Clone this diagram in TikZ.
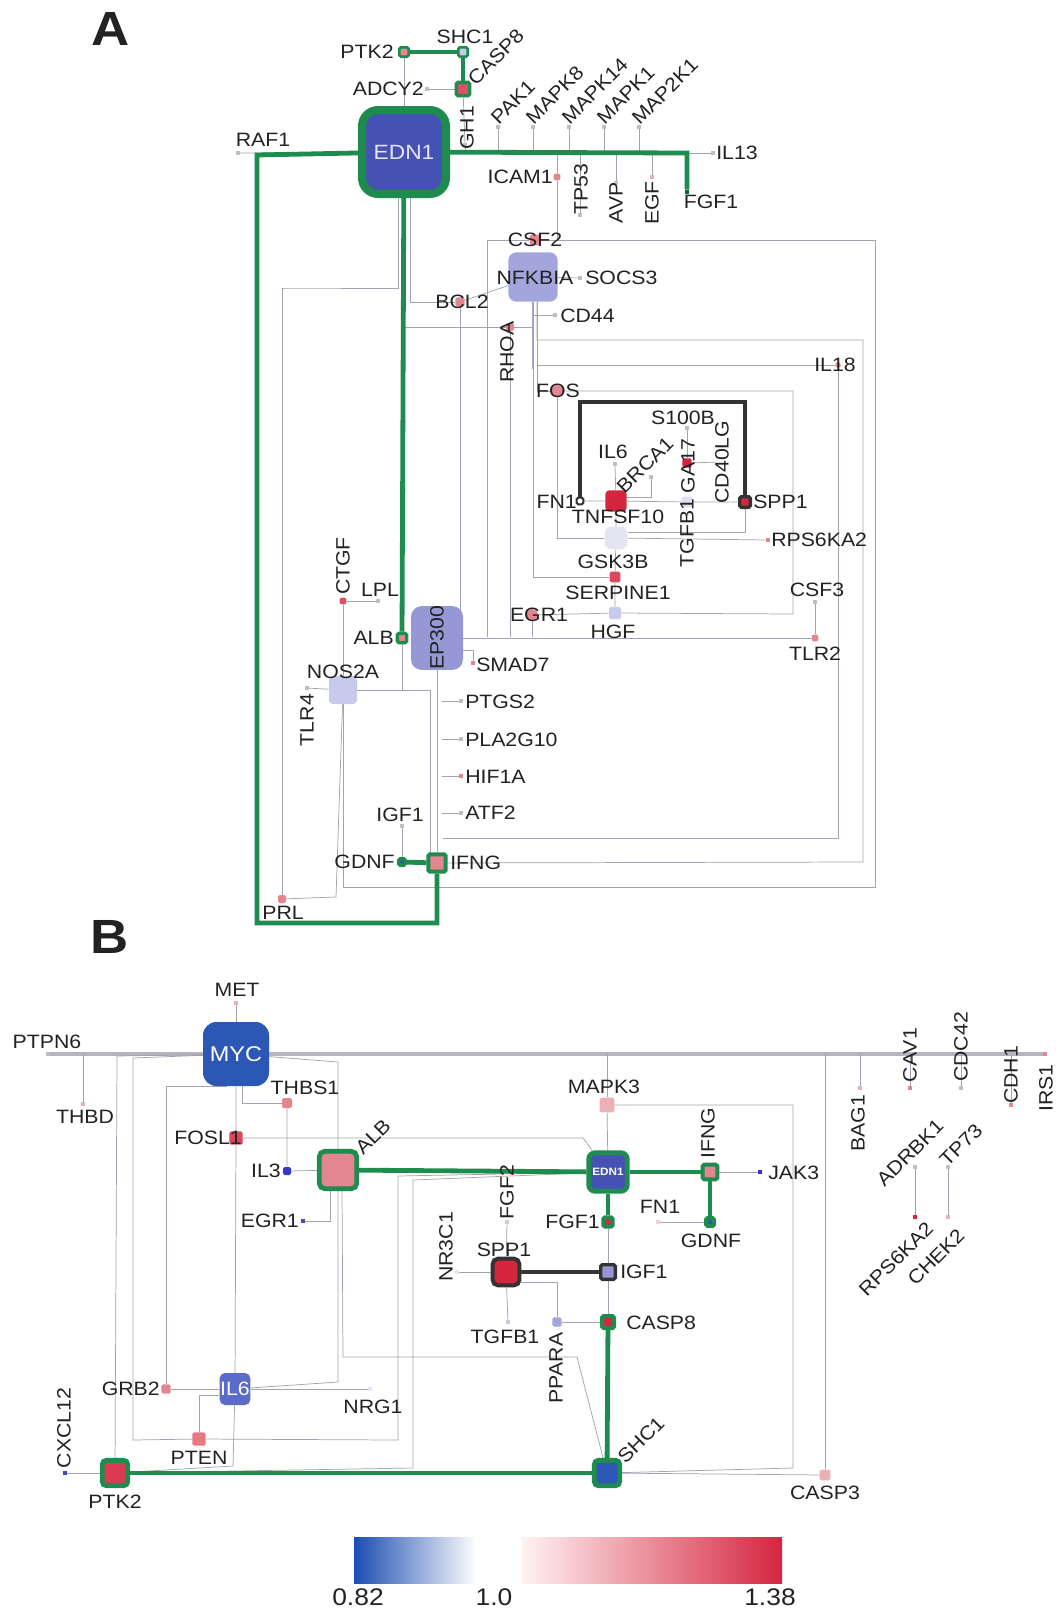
\documentclass[tikz,border=0pt]{standalone}
\usepackage{fontspec}
\setmainfont{Liberation Sans}[FakeStretch=1.1]
\usetikzlibrary{calc}
\definecolor{grn}{HTML}{1E8C4E}
\definecolor{bluedk}{HTML}{2C57B5}
\definecolor{edn}{HTML}{4652B3}
\definecolor{lav}{HTML}{A3A6DC}
\definecolor{lavd}{HTML}{9598D4}
\definecolor{lavl}{HTML}{C8CAEC}
\definecolor{lavxl}{HTML}{E4E4F2}
\definecolor{pnk}{HTML}{E3868F}
\definecolor{pnkl}{HTML}{EEB0B7}
\definecolor{redd}{HTML}{D5263F}
\definecolor{edgec}{HTML}{A2A2B0}
\definecolor{txt}{HTML}{222222}
\definecolor{cbb}{HTML}{1C4DB0}
\definecolor{ilsix}{HTML}{5A6BC9}
\pgfdeclarelayer{edges}
\pgfsetlayers{edges,main}
\newcommand\mylbl{\fontsize{14.5}{15}\selectfont}
\begin{document}
\begin{tikzpicture}[x=0.75pt,y=-0.75pt,
 glab/.style={inner sep=0pt, font=\mylbl, text=txt},
 gdot/.style={rectangle, inner sep=0pt, minimum size=3pt, fill=#1},
 gdot/.default={gray!50},
 nd/.style={rectangle, rounded corners=1.2pt, inner sep=0pt, minimum size=#1},
 gb/.style={draw=grn, line width=#1},
 kb/.style={draw=black!80, line width=#1},
 gedge/.style={draw=edgec, line width=0.55pt},
 gthick/.style={draw=grn, line width=3.6pt},
 kthick/.style={draw=black!80, line width=3.6pt},
 mainline/.style={draw=edgec!80, line width=2.8pt},
]
\begin{pgfonlayer}{edges}
\fill[white] (0,0) rectangle (1056,1614);
\end{pgfonlayer}
\useasboundingbox (0,0) rectangle (1056,1614);

% ================= PANEL A nodes =================
\node[glab, font=\bfseries\fontsize{36}{36}\selectfont] (labA) at (111,29) {A};
\node[nd=63pt, rounded corners=12pt, fill=edn, gb=6pt, font=\fontsize{15.5}{16}\selectfont, text=lavxl] (aEDN1) at (404,152) {EDN1};
\node[nd=7pt, fill=pnk, gb=2pt] (aPTK2) at (404,52) {};
\node[nd=7pt, fill=lavl, gb=2pt] (aSHC1) at (463,52) {};
\node[nd=10pt, fill=redd!80, gb=2.5pt] (aCASP8) at (463,89) {};
\node[gdot] (aADCY2) at (427,89) {};
\node[gdot] (aGH1) at (465,145) {};
\node[gdot] (aPAK1) at (498,127) {};
\node[gdot] (aMAPK8) at (533,127) {};
\node[gdot] (aMAPK14) at (569,127) {};
\node[gdot] (aMAPK1) at (604,127) {};
\node[gdot] (aMAP2K1) at (639,127) {};
\node[gdot] (aRAF1) at (238,153) {};
\node[gdot] (aIL13) at (713,153) {};
\node[gdot=grn!70!black] (aFGF1) at (687,192) {};
\node[nd=5pt, fill=pnk] (aICAM1) at (557,177) {};
\node[gdot] (aTP53) at (580,215) {};
\node[gdot=pnkl] (aAVP) at (616,183) {};
\node[gdot=pnkl] (aEGF) at (652,177) {};
\node[nd=8pt, fill=pnk] (aCSF2) at (535,240) {};
\node[nd=37pt, rounded corners=6pt, fill=lav] (aNFKBIA) at (533,277) {};
\node[gdot] (aSOCS3) at (580,278) {};
\node[nd=7pt, fill=pnk] (aBCL2) at (460,302) {};
\node[gdot] (aCD44) at (555,315) {};
\node[nd=6pt, fill=pnk] (aRHOA) at (510,327) {};
\node[nd=4pt, fill=pnk] (aIL18) at (838,365) {};
\node[circle, inner sep=0, minimum size=9pt, fill=pnk] (aFOS) at (557,391) {};
\node[nd=5pt, fill=white, kb=1.6pt] (aFN1) at (580,501) {};
\node[nd=16pt, rounded corners=3pt, fill=redd] (aTNFSF10) at (616,501) {};
\node[gdot] (aIL6) at (615,464) {};
\node[gdot] (aBRCA1) at (651,477) {};
\node[gdot] (aS100B) at (687,428) {};
\node[nd=7pt, fill=redd] (aGA17) at (687,463) {};
\node[nd=8pt, fill=lavxl!80!lavl] (aTGFB1) at (687,502) {};
\node[nd=8pt, fill=redd, kb=2.5pt] (aSPP1) at (745,502) {};
\node[gdot=pnk] (aRPS6KA2) at (768,540) {};
\node[nd=17pt, rounded corners=5pt, fill=lavxl] (aGSK3B) at (616,538) {};
\node[nd=8pt, fill=redd!85] (aSERPINE1) at (615,577) {};
\node[nd=9pt, fill=lavl] (aHGF) at (615,613) {};
\node[circle, inner sep=0, minimum size=9pt, fill=pnk] (aEGR1) at (532,615) {};
\node[gdot] (aCSF3) at (815,602) {};
\node[nd=5pt, fill=pnk] (aTLR2) at (815,638) {};
\node[nd=5pt, fill=redd!80] (aCTGF) at (343,601) {};
\node[gdot] (aLPL) at (378,601) {};
\node[nd=7pt, fill=pnk, gb=2.5pt] (aALB) at (402,638) {};
\node[rectangle, rounded corners=8pt, inner sep=0, minimum width=43pt, minimum height=39pt, fill=lavd, rotate=90, font=\mylbl, text=txt] (aEP300) at (437,638) {EP300};
\node[gdot=pnk] (aSMAD7) at (473,663) {};
\node[nd=21pt, rounded corners=3pt, fill=lavl] (aNOS2A) at (343,690) {};
\node[gdot] (aTLR4) at (307,688) {};
\node[gdot] (aPTGS2) at (461,701) {};
\node[gdot] (aPLA2G10) at (461,739) {};
\node[gdot=pnk] (aHIF1A) at (461,776) {};
\node[gdot] (aATF2) at (461,813) {};
\node[gdot] (aIGF1) at (402,826) {};
\node[nd=5pt, fill=bluedk, gb=2.5pt] (aGDNF) at (402,862) {};
\node[nd=13pt, fill=pnk, gb=3pt] (aIFNG) at (437,863) {};
\node[nd=6pt, fill=pnk] (aPRL) at (282,899) {};

% ---- panel A labels
\node[glab] (laPTK2) at (367,52) {PTK2};
\node[glab] (laSHC1) at (465,37) {SHC1};
\node[glab, rotate=45, anchor=west] (laCASP8) at (471,82) {CASP8};
\node[glab, anchor=east] (laADCY2) at (424,89) {ADCY2};
\node[glab, rotate=90] (laGH1) at (467,128) {GH1};
\node[glab, rotate=45, anchor=west] (laPAK1) at (494,121) {PAK1};
\node[glab, rotate=45, anchor=west] (laMAPK8) at (529,121) {MAPK8};
\node[glab, rotate=45, anchor=west] (laMAPK14) at (565,121) {MAPK14};
\node[glab, rotate=45, anchor=west] (laMAPK1) at (600,121) {MAPK1};
\node[glab, rotate=45, anchor=west] (laMAP2K1) at (635,121) {MAP2K1};
\node[glab] (laRAF1) at (263,140) {RAF1};
\node[glab, anchor=west] (laIL13) at (716,153) {IL13};
\node[glab, anchor=east] (laICAM1) at (553,177) {ICAM1};
\node[glab, rotate=90] (laTP53) at (581,189) {TP53};
\node[glab, rotate=90] (laAVP) at (616,203) {AVP};
\node[glab, rotate=90] (laEGF) at (652,203) {EGF};
\node[glab] (laFGF1) at (711,202) {FGF1};
\node[glab] (laCSF2) at (535,240) {CSF2};
\node[glab] (laNFKBIA) at (535,278) {NFKBIA};
\node[glab, anchor=west] (laSOCS3) at (585,278) {SOCS3};
\node[glab] (laBCL2) at (462,302) {BCL2};
\node[glab, anchor=west] (laCD44) at (560,316) {CD44};
\node[glab, rotate=90] (laRHOA) at (507,352) {RHOA};
\node[glab] (laIL18) at (835,365) {IL18};
\node[glab] (laFOS) at (558,391) {FOS};
\node[glab] (laS100B) at (683,418) {S100B};
\node[glab] (laIL6) at (613,452) {IL6};
\node[glab, rotate=45] (laBRCA1) at (645,465) {BRCA1};
\node[glab, rotate=90] (laGA17) at (688,466) {GA17};
\node[glab, rotate=90] (laCD40LG) at (722,462) {CD40LG};
\node[glab, anchor=east] (laFN1) at (577,502) {FN1};
\node[glab, anchor=west] (laSPP1) at (753,502) {SPP1};
\node[glab] (laTNFSF10) at (618,517) {TNFSF10};
\node[glab, rotate=90] (laTGFB1) at (687,533) {TGFB1};
\node[glab, anchor=west] (laRPS6KA2) at (771,540) {RPS6KA2};
\node[glab] (laGSK3B) at (613,562) {GSK3B};
\node[glab] (laSERPINE1) at (618,593) {SERPINE1};
\node[glab] (laCSF3) at (817,590) {CSF3};
\node[glab] (laEGR1) at (539,615) {EGR1};
\node[glab] (laHGF) at (613,632) {HGF};
\node[glab] (laTLR2) at (815,654) {TLR2};
\node[glab, rotate=90] (laCTGF) at (343,566) {CTGF};
\node[glab] (laLPL) at (380,590) {LPL};
\node[glab, anchor=east] (laALB) at (394,638) {ALB};
\node[glab, anchor=west] (laSMAD7) at (476,665) {SMAD7};
\node[glab] (laNOS2A) at (343,672) {NOS2A};
\node[glab, rotate=90] (laTLR4) at (307,720) {TLR4};
\node[glab, anchor=west] (laPTGS2) at (465,702) {PTGS2};
\node[glab, anchor=west] (laPLA2G10) at (465,740) {PLA2G10};
\node[glab, anchor=west] (laHIF1A) at (465,777) {HIF1A};
\node[glab, anchor=west] (laATF2) at (465,813) {ATF2};
\node[glab] (laIGF1) at (400,815) {IGF1};
\node[glab, anchor=east] (laGDNF) at (395,862) {GDNF};
\node[glab, anchor=west] (laIFNG) at (450,863) {IFNG};
\node[glab] (laPRL) at (283,913) {PRL};

% ================= PANEL B nodes =================
\node[glab, font=\bfseries\fontsize{36}{36}\selectfont] (labB) at (110,937) {B};
\node[rectangle, rounded corners=10pt, inner sep=0, minimum width=49.5pt, minimum height=48pt, fill=bluedk, text=white, font=\fontsize{16}{16}\selectfont] (bMYC) at (236,1054) {MYC};
\node[gdot=pnkl] (bMET) at (236,1003) {};
\node[gdot] (bPTPN6) at (48,1054) {};
\node[gdot=pnkl] (bTHBD) at (83,1104) {};
\node[nd=7.5pt, fill=pnk] (bTHBS1) at (287,1103) {};
\node[nd=10pt, fill=redd!85] (bFOSL1) at (236,1138) {};
\node[nd=6pt, fill=blue!55!gray] (bIL3) at (287,1171) {};
\node[nd=28pt, rounded corners=4pt, fill=pnk, gb=3.6pt] (bALB) at (338,1170) {};
\node[gdot=blue!40!gray] (bEGR1) at (303,1221) {};
\node[nd=11pt, fill=pnkl] (bMAPK3) at (607,1105) {};
\node[nd=29pt, rounded corners=5pt, fill=edn, gb=3.6pt, text=white, font=\bfseries\fontsize{8}{8}\selectfont] (bEDN1) at (608,1172) {EDN1};
\node[nd=11pt, fill=pnk, gb=3pt] (bIFNG) at (710,1172) {};
\node[gdot=blue!60!gray] (bJAK3) at (760,1172) {};
\node[nd=7pt, fill=redd, gb=3pt] (bFGF1) at (608,1222) {};
\node[gdot=pnkl!60] (bFN1) at (658,1222) {};
\node[nd=6pt, fill=bluedk, gb=3pt] (bGDNF) at (710,1222) {};
\node[gdot=lavl] (bFGF2) at (507,1222) {};
\node[nd=20pt, rounded corners=4pt, fill=redd, kb=3pt] (bSPP1) at (506,1272) {};
\node[gdot=lavxl] (bNR3C1) at (457,1272) {};
\node[nd=11pt, fill=lavd, kb=2.5pt] (bIGF1) at (608,1272) {};
\node[gdot=lavl] (bTGFB1) at (508,1322) {};
\node[nd=7pt, fill=lav] (bPPARA) at (557,1322) {};
\node[nd=9pt, fill=redd, gb=3pt] (bCASP8) at (608,1322) {};
\node[nd=19pt, rounded corners=3pt, fill=bluedk, gb=3.6pt] (bSHC1) at (607,1473) {};
\node[nd=19pt, rounded corners=3pt, fill=redd!90, gb=3.6pt] (bPTK2) at (115,1473) {};
\node[gdot=blue!45!gray] (bCXCL12) at (65,1473) {};
\node[nd=7pt, fill=pnk] (bGRB2) at (166,1389) {};
\node[rectangle, rounded corners=4pt, inner sep=0, minimum width=23pt, minimum height=24pt, fill=ilsix, text=white, font=\mylbl] (bIL6) at (235,1389) {IL6};
\node[gdot=lavxl] (bNRG1) at (370,1389) {};
\node[nd=10pt, fill=pnk!90!red] (bPTEN) at (199,1439) {};
\node[nd=8pt, fill=pnkl] (bCASP3) at (825,1475) {};
\node[gdot=pnkl] (bBAG1) at (860,1088) {};
\node[gdot=pnk] (bCAV1) at (910,1088) {};
\node[gdot] (bCDC42) at (961,1088) {};
\node[gdot=pnk] (bCDH1) at (1011,1105) {};
\node[gdot=pnk] (bIRS1) at (1045,1054) {};
\node[gdot] (bADRBK1) at (915,1167) {};
\node[gdot=redd] (bRPS6KA2) at (915,1217) {};
\node[gdot] (bTP73) at (948,1167) {};
\node[gdot=pnkl] (bCHEK2) at (948,1217) {};

% ---- panel B labels
\node[glab] (lbMET) at (237,990) {MET};
\node[glab] (lbPTPN6) at (47,1042) {PTPN6};
\node[glab] (lbTHBD) at (85,1117) {THBD};
\node[glab] (lbTHBS1) at (305,1088) {THBS1};
\node[glab] (lbFOSL1) at (208,1138) {FOSL1};
\node[glab, anchor=east] (lbIL3) at (281,1171) {IL3};
\node[glab, rotate=45] (lbALB) at (373,1137) {ALB};
\node[glab, anchor=east] (lbEGR1) at (299,1221) {EGR1};
\node[glab] (lbMAPK3) at (604,1087) {MAPK3};
\node[glab, rotate=90] (lbIFNG) at (708,1133) {IFNG};
\node[glab, anchor=west] (lbJAK3) at (768,1173) {JAK3};
\node[glab, anchor=east] (lbFGF1) at (600,1222) {FGF1};
\node[glab] (lbFN1) at (660,1207) {FN1};
\node[glab] (lbGDNF) at (711,1241) {GDNF};
\node[glab, rotate=90] (lbFGF2) at (507,1192) {FGF2};
\node[glab] (lbSPP1) at (504,1250) {SPP1};
\node[glab, rotate=90] (lbNR3C1) at (446,1247) {NR3C1};
\node[glab, anchor=west] (lbIGF1) at (620,1272) {IGF1};
\node[glab] (lbTGFB1) at (505,1337) {TGFB1};
\node[glab, rotate=90] (lbPPARA) at (556,1368) {PPARA};
\node[glab, anchor=west] (lbCASP8) at (626,1323) {CASP8};
\node[glab, rotate=45] (lbSHC1) at (641,1440) {SHC1};
\node[glab] (lbPTK2) at (115,1502) {PTK2};
\node[glab, rotate=90] (lbCXCL12) at (64,1428) {CXCL12};
\node[glab, anchor=east] (lbGRB2) at (160,1389) {GRB2};
\node[glab] (lbNRG1) at (373,1407) {NRG1};
\node[glab] (lbPTEN) at (199,1458) {PTEN};
\node[glab] (lbCASP3) at (825,1493) {CASP3};
\node[glab, rotate=90] (lbBAG1) at (858,1123) {BAG1};
\node[glab, rotate=90] (lbCAV1) at (910,1055) {CAV1};
\node[glab, rotate=90] (lbCDC42) at (961,1047) {CDC42};
\node[glab, rotate=90] (lbCDH1) at (1011,1075) {CDH1};
\node[glab, rotate=90] (lbIRS1) at (1046,1088) {IRS1};
\node[glab, rotate=45] (lbADRBK1) at (910,1153) {ADRBK1};
\node[glab, rotate=45] (lbTP73) at (961,1145) {TP73};
\node[glab, rotate=45] (lbRPS6KA2) at (896,1259) {RPS6KA2};
\node[glab, rotate=45] (lbCHEK2) at (936,1257) {CHEK2};

% ---- colour bar
\shade[left color=cbb, middle color=cbb!60!white, right color=white] (354,1537) rectangle (477,1583);
\shade[left color=red!5, middle color=redd!55!white, right color=redd] (522,1537) rectangle (782,1583);
\node[glab, font=\fontsize{18}{18}\selectfont] (cb1) at (358,1597) {0.82};
\node[glab, font=\fontsize{18}{18}\selectfont] (cb2) at (494,1597) {1.0};
\node[glab, font=\fontsize{18}{18}\selectfont] (cb3) at (770,1597) {1.38};

% ================= EDGES =================
\begin{pgfonlayer}{edges}
% ---- panel A gray
\draw[gedge] (aPTK2) -- (aEDN1);
\draw[gedge] (aADCY2) -- (aCASP8);
\draw[gedge] (aCASP8) -- (aGH1);
\foreach \n in {aPAK1,aMAPK8,aMAPK14,aMAPK1,aMAP2K1,aTP53,aAVP,aEGF,aICAM1,aGH1}
  \draw[gedge] (\n) -- (\n |- aEDN1);
\draw[gedge] (aRAF1) -- (aEDN1);
\draw[gedge] (687,153) -- (aIL13);
\draw[gedge] (aICAM1) |- (aCSF2);
\draw[gedge] (aSOCS3) -- (aNFKBIA);
\draw[gedge] (aBCL2) -- (aNFKBIA);
\draw[gedge] (aCD44) -| (aNFKBIA);
\draw[gedge] ([xshift=4.5pt]aEDN1.south) |- (aBCL2);
\draw[gedge] ([xshift=-4.5pt]aEDN1.south) |- (285,288) -- (282,288) -- (aPRL);
\draw[gedge] (405,327) -- (aRHOA);
\draw[gedge] (aRHOA) -| (aNFKBIA);
\draw[gedge] (aBCL2) -- (460,637);
\draw[gedge] (aCSF2) -| (487,637);
\draw[gedge] (aRHOA) -- (510,637);
\draw[gedge] (aEGR1) -- (532,637);
\draw[gedge] (aEP300) -- (aTLR2);
\draw[gedge] (aNOS2A) |- (875,887) -- (875,240) -- (aCSF2);
\draw[gedge, line width=1.2pt, draw=lav] (aNFKBIA.south) -- ++(0,-50pt);
\draw[gedge] (aNFKBIA) |- (aSERPINE1);
\draw[gedge] ([xshift=3pt]aNFKBIA.south) |- (863,340) -- (863,862) -- (aIFNG);
\draw[gedge] ([xshift=3pt]aNFKBIA.south) |- (aIL18);
\draw[gedge] (aIL18) -- (838,838) -- (443,838);
\draw[gedge] ([xshift=3pt]aNFKBIA.south) |- (aFOS);
\draw[gedge] (aFOS) -- (793,391) -- (793,614) -- (aHGF);
\draw[gedge] (aFOS) |- (aGSK3B);
\draw[gedge] (aGSK3B) -- (aRPS6KA2);
\draw[gedge] (aSPP1) |- ([yshift=4pt]aGSK3B.east);
\draw[gedge] (aFN1) -- (aTNFSF10) -- (aTGFB1) -- (aSPP1);
\draw[gedge] (aIL6) -- (aTNFSF10);
\draw[gedge] (aBRCA1) |- ([yshift=3pt]aTNFSF10.east);
\draw[gedge] (aS100B) -- (aGA17);
\draw[gedge] (aGA17) -- (laCD40LG);
\draw[gedge] (aTNFSF10) -- (aGSK3B) -- (aSERPINE1) -- (aHGF);
\draw[gedge] (aEGR1) -- (aHGF);
\draw[gedge] (aCSF3) -- (aTLR2);
\draw[gedge] ([yshift=-9pt]aEP300.center) -| (aSMAD7);
\draw[gedge] (aEP300) -- (aIFNG);
\foreach \n in {aPTGS2,aPLA2G10,aHIF1A,aATF2}
  \draw[gedge] (\n) -- ([xshift=4pt]\n -| aEP300);
\draw[gedge] (aIGF1) -- (aGDNF);
\draw[gedge] (aCTGF) -- (aLPL);
\draw[gedge] (aCTGF) -- (aNOS2A);
\draw[gedge] (aALB) |- (aNOS2A);
\draw[gedge] (aNOS2A) -- (aTLR4);
\draw[gedge] (aNOS2A) -- (430,690) -- (430,856);
\draw[gedge] (aNOS2A) -- (336,897) -- (aPRL);
% ---- panel A thick
\draw[gthick] (aPTK2) -- (aSHC1);
\draw[gthick] (aSHC1) -- (aCASP8);
\draw[gthick] (aEDN1) -- (687,153) -- (aFGF1);
\draw[gthick] (aEDN1) -- (257,155) -- (257,923) -- (437,923) -- (aIFNG);
\draw[gthick] (aEDN1) -- (aALB);
\draw[gthick] (aGDNF) -- (aIFNG);
\draw[kthick] (aFN1) -- (580,402) -- (745,402) -- (aSPP1);

% ---- panel B gray
\draw[mainline] (bPTPN6) -- (bMYC);
\draw[mainline] (bMYC) -- (bIRS1);
\draw[gedge] (bMET) -- (bMYC);
\draw[gedge] (bTHBD) -- (bTHBD |- bMYC);
\draw[gedge] (bMYC) -- (117,1056) -- (bPTK2);
\draw[gedge] (bMYC) -- (133,1058) -- (133,1440) -- (bPTEN);
\draw[gedge] ([xshift=-7pt]bMYC.south) -| (bGRB2);
\draw[gedge] (bMYC) -- (bFOSL1) -- (bIL6);
\draw[gedge] (bIL6) -- (233,1466) -- (bPTK2);
\draw[gedge] ([xshift=5pt]bMYC.south) |- (bTHBS1);
\draw[gedge] (bTHBS1) -- (bIL3) -- (bALB);
\draw[gedge] ([xshift=-6pt]bALB.south) |- (bEGR1);
\draw[gedge] (bMYC) -- (338,1062) -- (bALB);
\draw[gedge] (bALB) -- (338,1382) -- (bIL6);
\draw[gedge] (bFOSL1) -- (583,1138) -- (bEDN1);
\draw[gedge] ([xshift=3pt]bALB.south) -- (343,1357) -- (577,1357) -- (bSHC1);
\draw[gedge] (bEDN1) -- (398,1176) -- (398,1440) -- (bPTEN);
\draw[gedge] (bEDN1) -- (413,1180) -- (413,1468) -- (bPTK2);
\draw[gedge] (bMAPK3) -- (bMAPK3 |- bMYC);
\draw[gedge] (bMAPK3) -- (bEDN1);
\draw[gedge] (bMAPK3) -- (793,1105) -- (793,1468) -- (bSHC1);
\draw[gedge] (bCASP3) -- (bCASP3 |- bMYC);
\draw[gedge] (bSHC1) -- (bCASP3);
\foreach \n in {bBAG1,bCAV1,bCDC42,bCDH1}
  \draw[gedge] (\n) -- (\n |- bMYC);
\draw[gedge] (bADRBK1) -- (bRPS6KA2);
\draw[gedge] (bTP73) -- (bCHEK2);
\draw[gedge] (bIFNG) -- (bJAK3);
\draw[gedge] (bFN1) -- (bGDNF);
\draw[gedge] (bFGF1) -- (bIGF1) -- (bCASP8);
\draw[gedge] (bSPP1) -- (bNR3C1);
\draw[gedge] (bSPP1) -- (bFGF2);
\draw[gedge] (bSPP1) -- (bTGFB1);
\draw[gedge] ([yshift=-8pt]bSPP1.east) -| (bPPARA);
\draw[gedge] (bPPARA) -- (bCASP8);
\draw[gedge] (bGRB2) -- (bIL6) -- (bNRG1);
\draw[gedge] ([yshift=-5pt]bIL6.west) -| (bPTEN);
\draw[gedge] (bCXCL12) -- (bPTK2);
% ---- panel B thick
\draw[gthick] (bALB) -- (bEDN1);
\draw[gthick] (bEDN1) -- (bIFNG);
\draw[gthick] (bIFNG) -- (bGDNF);
\draw[gthick] (bEDN1) -- (bFGF1);
\draw[gthick] (bCASP8) -- (bSHC1);
\draw[gthick] (bPTK2) -- (bSHC1);
\draw[kthick] (bSPP1) -- (bIGF1);
\end{pgfonlayer}
\end{tikzpicture}
\end{document}
